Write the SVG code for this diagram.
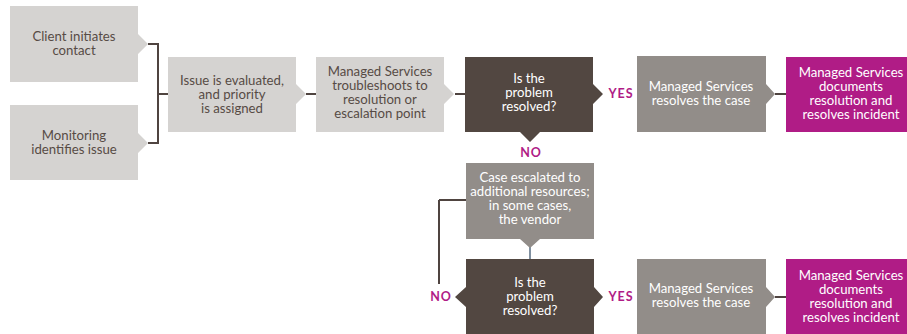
<svg xmlns="http://www.w3.org/2000/svg" width="907" height="334" viewBox="0 0 907 334">
<style>
text{font-family:"Lato","Liberation Sans",sans-serif;font-size:13.2px;text-anchor:middle}
.lt{fill:#d5d3d1}
.mid{fill:#928d89}.dec{fill:#524741}.mag{fill:#b01c86}
.w{fill:#ffffff}.d{fill:#574b45}
.lab{fill:#b01c86;font-weight:bold;font-size:12.5px;letter-spacing:1px}
.con{stroke:#4f4440;stroke-width:2;fill:none}
</style>
<g id="connectors">
<path class="con" d="M148 44H158V143H148M158 94H168M306 94H316M455 94H465M775 94H786M775 297H786M439 200H466M439 200V284"/>
<path d="M530 247V259" stroke="#8090a0" stroke-width="2" fill="none"/>
</g>
<g id="client">
<path class="lt" d="M10 6H138V34L148 44L138 54V82H10Z"/>
<text class="d"><tspan x="74" y="41">Client initiates</tspan><tspan x="74" y="55">contact</tspan></text>
</g>
<g id="monitoring">
<path class="lt" d="M10 105H138V133L148 143L138 153V180H10Z"/>
<text class="d"><tspan x="74" y="140">Monitoring</tspan><tspan x="74" y="154">identifies issue</tspan></text>
</g>
<g id="evaluate">
<path class="lt" d="M168 57H296V84L306 94L296 104V132H168Z"/>
<text class="d"><tspan x="232" y="85">Issue is evaluated,</tspan><tspan x="232" y="99">and priority</tspan><tspan x="232" y="113">is assigned</tspan></text>
</g>
<g id="troubleshoot">
<path class="lt" d="M316 57H444V84L454 94L444 104V132H316Z"/>
<text class="d"><tspan x="380" y="76">Managed Services</tspan><tspan x="380" y="90">troubleshoots to</tspan><tspan x="380" y="104">resolution or</tspan><tspan x="380" y="118">escalation point</tspan></text>
</g>
<g id="decision1">
<path class="dec" d="M465 57H593V84L603 94L593 104V132H540L530 142L520 132H465Z"/>
<text class="w"><tspan x="529" y="83">Is the</tspan><tspan x="529" y="97">problem</tspan><tspan x="529" y="111">resolved?</tspan></text>
<text class="lab" x="621" y="98">YES</text>
<text class="lab" x="531" y="157">NO</text>
</g>
<g id="resolve1">
<path class="mid" d="M637 56H766V84L775 94L766 104V132H637Z"/>
<text class="w"><tspan x="701" y="91">Managed Services</tspan><tspan x="701" y="105">resolves the case</tspan></text>
</g>
<g id="document1">
<rect class="mag" x="786" y="57" width="130" height="75"/>
<text class="w"><tspan x="851" y="77">Managed Services</tspan><tspan x="851" y="91">documents</tspan><tspan x="851" y="105">resolution and</tspan><tspan x="851" y="119">resolves incident</tspan></text>
</g>
<g id="escalate">
<path class="mid" d="M466 163H594V239H540L530 248L520 239H466Z"/>
<text class="w"><tspan x="530" y="182">Case escalated to</tspan><tspan x="530" y="196">additional resources;</tspan><tspan x="530" y="210">in some cases,</tspan><tspan x="530" y="224">the vendor</tspan></text>
</g>
<g id="decision2">
<path class="dec" d="M466 259H594V287L603 297L594 307V334H466V307L455 297L466 287Z"/>
<text class="w"><tspan x="530" y="287">Is the</tspan><tspan x="530" y="301">problem</tspan><tspan x="530" y="315">resolved?</tspan></text>
<text class="lab" x="441" y="301">NO</text>
<text class="lab" x="621" y="301">YES</text>
</g>
<g id="resolve2">
<path class="mid" d="M637 259H766V287L775 297L766 307V334H637Z"/>
<text class="w"><tspan x="701" y="293">Managed Services</tspan><tspan x="701" y="307">resolves the case</tspan></text>
</g>
<g id="document2">
<rect class="mag" x="786" y="259" width="130" height="75"/>
<text class="w"><tspan x="851" y="280">Managed Services</tspan><tspan x="851" y="294">documents</tspan><tspan x="851" y="308">resolution and</tspan><tspan x="851" y="322">resolves incident</tspan></text>
</g>
</svg>
